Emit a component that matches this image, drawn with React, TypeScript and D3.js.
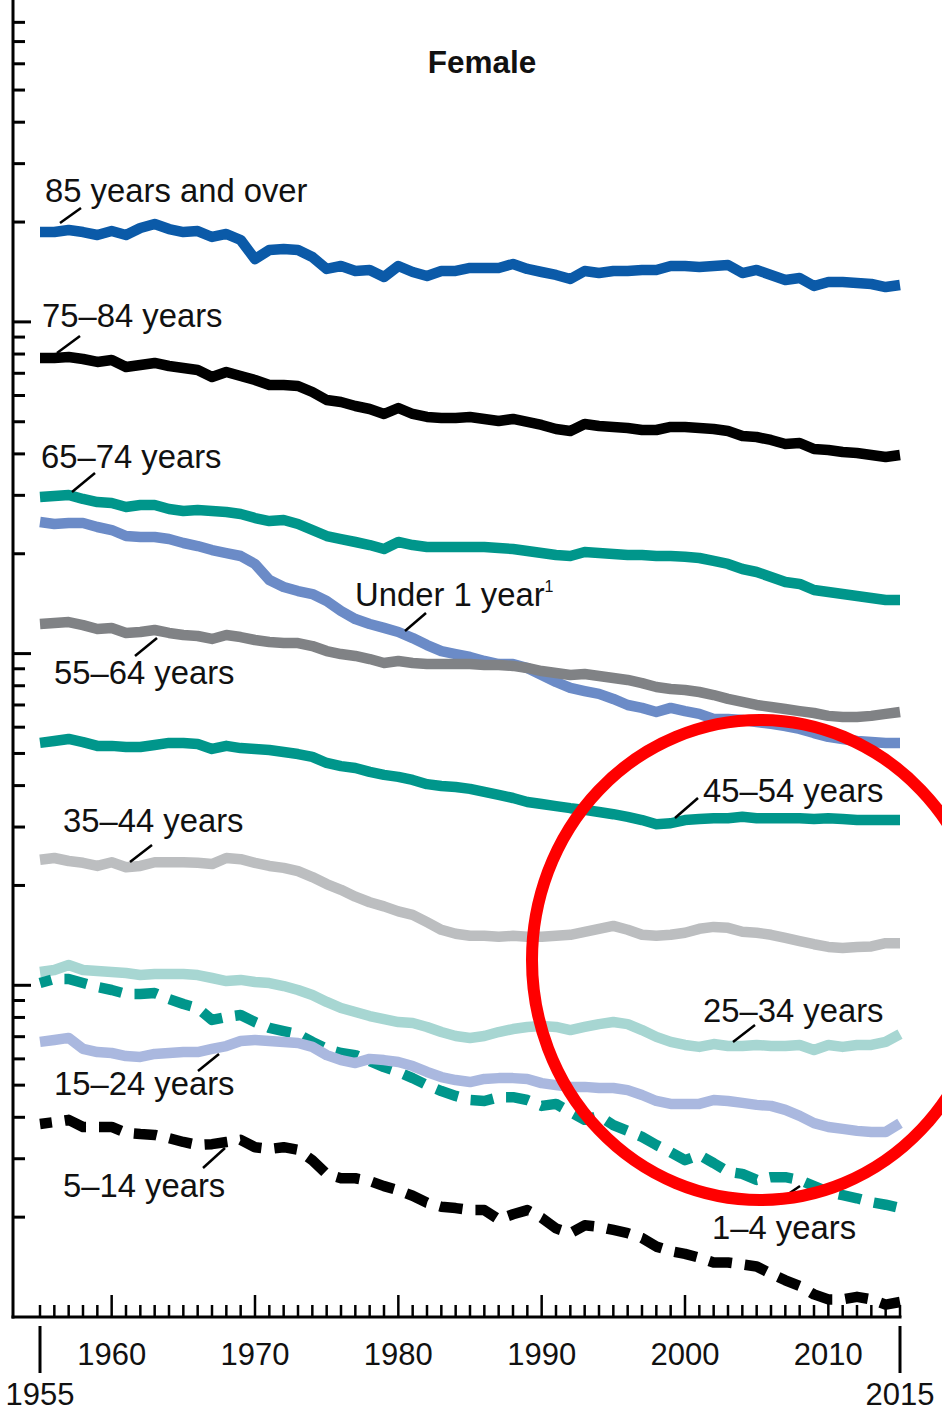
import React from 'react';
import * as d3 from 'd3';

// Female death rates by age (per 100,000), 1955–2015
const years = d3.range(1955, 2016);

const age85plus = [18660,18660,18920,18660,18280,18790,18280,19190,19730,19050,
  18660,18790,18030,18410,17660,15470,16470,16590,16470,15690,
  14440,14740,14240,14340,13660,14740,14140,13750,14240,14240,
  14540,14540,14540,14950,14440,14140,13850,13470,14240,14040,
  14240,14240,14340,14340,14740,14740,14640,14740,14840,14040,
  14340,13850,13380,13560,12830,13190,13190,13100,13010,12740,
  12920];

const age75to84 = [7784,7784,7838,7730,7571,7677,7311,7416,7519,7363,
  7261,7161,6822,7063,6869,6680,6453,6453,6409,6147,
  5815,5735,5578,5463,5277,5501,5277,5169,5133,5133,
  5169,5098,5028,5098,4993,4889,4756,4690,4923,4856,
  4822,4789,4722,4722,4822,4822,4789,4756,4690,4529,
  4498,4406,4285,4315,4139,4110,4053,4025,3969,3915,
  3969];

const age65to74 = [2966,2987,3008,2925,2864,2844,2767,2805,2805,2729,
  2692,2710,2692,2673,2636,2563,2510,2527,2459,2358,
  2262,2215,2170,2125,2067,2170,2125,2096,2096,2096,
  2096,2096,2081,2067,2038,2010,1982,1969,2024,2010,
  1996,1982,1982,1969,1969,1960,1942,1902,1863,1799,
  1762,1702,1644,1622,1555,1534,1512,1492,1471,1451,
  1451];

const under1 = [2493,2459,2476,2476,2408,2358,2262,2246,2246,2215,
  2155,2110,2052,2010,1969,1863,1667,1588,1544,1512,
  1441,1344,1271,1228,1195,1162,1114,1061,1018,997,
  977,950,930,930,905,862,821,788,771,756,
  730,700,686,667,686,671,658,635,635,631,
  622,614,605,593,576,561,553,545,541,538,
  538];

const age55to64 = [1228,1237,1245,1219,1186,1195,1154,1162,1178,1154,
  1138,1130,1107,1138,1122,1099,1084,1076,1076,1054,
  1018,997,984,963,937,950,937,930,930,930,
  930,924,924,918,905,886,874,862,868,856,
  844,833,815,793,782,777,766,750,730,715,
  700,690,681,671,662,649,644,644,649,658,
  667];

const age45to54 = [538,545,553,541,527,527,523,523,530,538,
  538,534,516,527,519,516,512,505,498,488,
  468,458,452,440,431,425,416,404,399,396,
  391,383,375,367,357,352,347,342,338,333,
  328,322,315,306,308,315,317,319,319,322,
  319,319,319,319,317,319,317,315,315,315,
  315];

const age35to44 = [239,242,237,234,229,235,227,229,235,235,
  235,234,232,242,240,234,229,226,221,212,
  202,194,185,178,173,167,163,155,147,143,
  141,141,140,141,140,140,141,142,145,148,
  151,147,142,141,142,144,148,150,149,145,
  144,142,139,136,133,130.5,129.6,130.5,131,134,
  134];

const age25to34 = [109.7,111.2,115.1,111.2,110.4,109.7,108.9,107.4,108.2,108.2,
  108.2,107.4,105.2,103.0,103.8,102.3,101.6,99.5,96.8,93.5,
  89.1,85.4,83.1,80.8,79.1,77.5,77.0,74.9,72.3,70.3,
  69.4,70.3,72.3,73.8,74.9,75.4,74.9,73.3,74.9,76.4,
  77.5,76.4,73.3,69.9,67.5,66.1,65.2,66.5,65.6,65.6,
  66.1,65.6,65.6,66.1,63.8,66.1,65.2,66.1,66.1,67.5,
  71.3];

const age15to24 = [67.5,68.4,69.4,64.3,62.9,62.5,61.2,60.8,62.1,62.5,
  62.9,62.9,64.3,65.6,67.9,68.4,67.9,67.5,67.0,65.2,
  61.6,59.5,58.3,60.0,59.5,58.7,57.1,54.8,52.9,51.8,
  51.1,52.2,52.5,52.5,52.2,50.7,50.0,49.4,49.4,49.0,
  49.0,48.3,46.7,44.8,43.9,43.9,43.9,45.1,44.8,44.2,
  43.6,43.3,42.1,40.4,38.4,37.4,36.9,36.4,36.1,36.1,
  38.4];

const age1to4 = [101.6,104.5,104.5,101.6,98.8,96.8,94.2,94.2,94.8,90.9,
  87.8,85.4,78.6,80.3,81.4,77.5,74.4,72.8,71.3,67.5,
  64.3,62.5,61.6,59.1,56.7,54.8,52.5,50.0,48.0,46.4,
  45.1,44.8,46.0,46.0,45.1,43.3,43.9,41.5,39.3,40.4,
  37.9,36.4,34.9,33.0,31.4,29.7,30.8,29.1,27.4,27.0,
  25.9,26.4,26.4,25.9,24.8,23.8,23.3,22.8,22.2,21.8,
  21.3];

const age5to14 = [38.2,38.7,39.3,37.4,37.4,37.4,35.9,35.6,35.4,34.6,
  33.7,33.0,33.2,33.7,34.2,32.5,32.1,32.5,31.9,29.7,
  27.0,26.2,26.2,25.7,24.8,24.1,23.2,22.1,21.5,21.3,
  21.0,21.0,19.7,20.4,21.0,19.9,18.5,17.9,18.9,18.7,
  18.3,17.9,17.3,16.3,15.8,15.5,15.1,14.6,14.6,14.4,
  14.2,13.5,12.9,12.4,11.7,11.3,11.3,11.5,11.3,10.9,
  11.1];

const decadeLabels = [1960, 1970, 1980, 1990, 2000, 2010];
const endLabels = [1955, 2015];

// Drawing order and styles
const seriesList = [
  { key: '85+', values: age85plus, color: '#0b5aa8', dashed: false },
  { key: '75-84', values: age75to84, color: '#000000', dashed: false },
  { key: '65-74', values: age65to74, color: '#00968b', dashed: false },
  { key: 'u1', values: under1, color: '#6b8bc7', dashed: false },
  { key: '55-64', values: age55to64, color: '#808285', dashed: false },
  { key: '45-54', values: age45to54, color: '#00968b', dashed: false },
  { key: '35-44', values: age35to44, color: '#bcbec0', dashed: false },
  { key: '25-34', values: age25to34, color: '#a7d6d2', dashed: false },
  { key: '1-4', values: age1to4, color: '#00968b', dashed: true },
  { key: '15-24', values: age15to24, color: '#aab8df', dashed: false },
  { key: '5-14', values: age5to14, color: '#000000', dashed: true },
];

// Annotation layout (text position + leader line)
const annotations = [
  { text: '85 years and over', x: 45, y: 202, l: [60, 223, 81, 208] },
  { text: '75–84 years', x: 42, y: 327, l: [57, 353, 80, 336] },
  { text: '65–74 years', x: 41, y: 468, l: [72, 492, 95, 473] },
  { text: 'Under 1 year', sup: '1', x: 355, y: 606, l: [405, 631, 426, 613] },
  { text: '55–64 years', x: 54, y: 684, l: [135, 656, 157, 638] },
  { text: '45–54 years', x: 703, y: 802, l: [675, 818, 698, 798] },
  { text: '35–44 years', x: 63, y: 832, l: [130, 862, 152, 845] },
  { text: '25–34 years', x: 703, y: 1022, l: [733, 1042, 755, 1025] },
  { text: '15–24 years', x: 54, y: 1095, l: [198, 1071, 219, 1054] },
  { text: '5–14 years', x: 63, y: 1197, l: [203, 1168, 225, 1148] },
  { text: '1–4 years', x: 712, y: 1239, l: [775, 1203, 800, 1186] },
];

const FONT = '"Liberation Sans", Arial, Helvetica, sans-serif';

export default function App() {
  const W = 942, H = 1411;
  const x = d3.scaleLinear().domain([1955, 2015]).range([40, 900]);
  const y = d3.scaleLog().domain([10, 10000]).range([1317, 321.9]);
  const axisX = 13;
  const axisY = 1317;

  const line = (vals: number[]) =>
    d3.line<number>()
      .x((_, i) => x(years[i]))
      .y((v) => y(v))(vals) || '';

  const yTicks: { v: number; major: boolean }[] = [];
  [10, 100, 1000, 10000].forEach((d) => {
    for (let m = 1; m <= 9; m++) {
      const v = m * d;
      if (y(v) >= 15 && y(v) < axisY - 2) yTicks.push({ v, major: m === 1 });
    }
  });

  return (
    <svg width={W} height={H} viewBox={`0 0 ${W} ${H}`}
      style={{ position: 'absolute', left: 0, top: 0, display: 'block', background: '#fff' }}
      fontFamily={FONT}>
      <rect x={0} y={0} width={W} height={H} fill="#fff" />
      {/* Title */}
      <text x={482} y={73} textAnchor="middle" fontSize={31.5} fontWeight="bold" fill="#111">Female</text>

      {/* Series */}
      {seriesList.map((s) => (
        <path key={s.key} d={line(s.values)} fill="none" stroke={s.color}
          strokeWidth={10.5}
          strokeLinejoin="round"
          strokeLinecap="butt"
          strokeDasharray={s.dashed ? '23 13' : undefined}
          strokeDashoffset={s.dashed ? 11 : undefined} />
      ))}

      {/* Y axis */}
      <line x1={axisX} y1={0} x2={axisX} y2={axisY + 1.5} stroke="#000" strokeWidth={3} />
      {yTicks.map((t) => (
        <line key={t.v} x1={axisX} x2={t.major ? 31 : 25} y1={y(t.v)} y2={y(t.v)} stroke="#000" strokeWidth={3} />
      ))}

      {/* X axis */}
      <line x1={axisX - 1.5} y1={axisY} x2={x(2015) + 1.5} y2={axisY} stroke="#000" strokeWidth={3} />
      {years.map((yr) => {
        const major = yr % 10 === 0;
        return (
          <line key={yr} x1={x(yr)} x2={x(yr)} y1={axisY} y2={major ? axisY - 22 : axisY - 12}
            stroke="#000" strokeWidth={2.5} />
        );
      })}
      {endLabels.map((yr) => (
        <line key={'e' + yr} x1={x(yr)} x2={x(yr)} y1={1326} y2={1373} stroke="#000" strokeWidth={3} />
      ))}
      {decadeLabels.map((yr) => (
        <text key={'l' + yr} x={x(yr)} y={1365} textAnchor="middle" fontSize={31} fill="#111">{yr}</text>
      ))}
      {endLabels.map((yr) => (
        <text key={'el' + yr} x={x(yr)} y={1405} textAnchor="middle" fontSize={31} fill="#111">{yr}</text>
      ))}

      {/* Annotations */}
      {annotations.map((a) => (
        <g key={a.text}>
          <line x1={a.l[0]} y1={a.l[1]} x2={a.l[2]} y2={a.l[3]} stroke="#000" strokeWidth={2.5} />
          <text x={a.x} y={a.y} fontSize={32.8} fill="#111">
            {a.text}
            {a.sup ? <tspan fontSize={16} dy={-14}>{a.sup}</tspan> : null}
          </text>
        </g>
      ))}

      {/* Red highlight ellipse */}
      <ellipse cx={760} cy={960} rx={228} ry={240} fill="none" stroke="#ff0000" strokeWidth={12} />
    </svg>
  );
}
